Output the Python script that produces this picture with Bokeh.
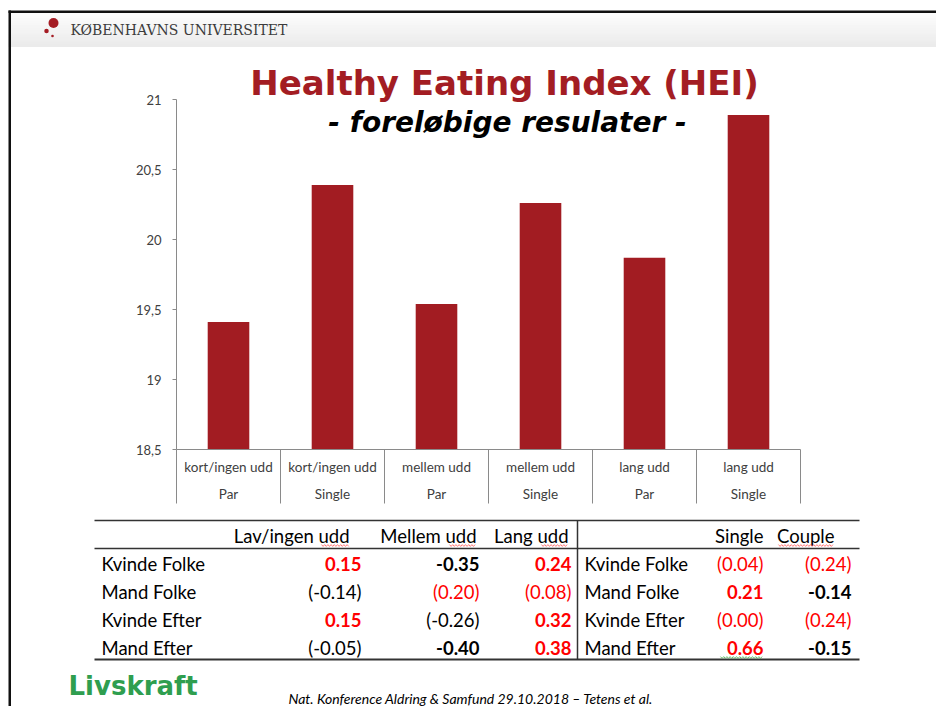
from bokeh.plotting import figure
from bokeh.models import Range1d
from bokeh.core.properties import value
from bokeh.embed import file_html
from bokeh.resources import INLINE

# ---------------- data ----------------
education = ["kort/ingen udd", "kort/ingen udd", "mellem udd", "mellem udd", "lang udd", "lang udd"]
household = ["Par", "Single", "Par", "Single", "Par", "Single"]
hei_score = [19.41, 20.39, 19.54, 20.26, 19.87, 20.89]
y_ticks = [18.5, 19.0, 19.5, 20.0, 20.5, 21.0]
y_tick_labels = ["18,5", "19", "19,5", "20", "20,5", "21"]

row_labels = ["Kvinde Folke", "Mand Folke", "Kvinde Efter", "Mand Efter"]
edu_headers = ["Lav/ingen udd", "Mellem udd", "Lang udd"]
edu_values = [[0.15, -0.35, 0.24],
              [-0.14, 0.20, 0.08],
              [0.15, -0.26, 0.32],
              [-0.05, -0.40, 0.38]]
edu_significant = [[True, True, True],
                   [False, False, False],
                   [True, False, True],
                   [False, True, True]]
hh_headers = ["Single", "Couple"]
hh_values = [[0.04, 0.24],
             [0.21, -0.14],
             [0.00, 0.24],
             [0.66, -0.15]]
hh_significant = [[False, False],
                  [True, True],
                  [False, False],
                  [True, True]]

title = "Healthy Eating Index (HEI)"
subtitle = "- foreløbige resulater -"
header_text = "KØBENHAVNS UNIVERSITET"
logo_text = "Livskraft"
footer_text = "Nat. Konference Aldring & Samfund  29.10.2018 \u2013 Tetens et al."

# ---------------- styling / layout ----------------
W, H = 936, 706
RED_DARK = "#a31d23"
BAR = "#a21c22"
AXC = "#8a8a8a"
TXT = "#404040"
RED = "#ff0000"
F = value("Lato")

p = figure(width=W, height=H, x_range=Range1d(0, W), y_range=Range1d(H, 0),
           output_backend="svg", toolbar_location=None, min_border=0,
           x_axis_type=None, y_axis_type=None, outline_line_color=None,
           background_fill_color="white", border_fill_color="white")

# chart geometry (pixel positions of the chart box)
AX_L, CAT_W, Y_BASE, PPU, V_MIN = 176.0, 104.0, 449.0, 140.0, 18.5
p.extra_x_ranges = {"cx": Range1d((0 - AX_L) / CAT_W, (W - AX_L) / CAT_W)}
p.extra_y_ranges = {"cy": Range1d(V_MIN - (H - Y_BASE) / PPU, V_MIN + Y_BASE / PPU)}

# ---- slide frame and header band ----
n_str = 14
g0, g1 = 12.5, 46.0
tops, bots, cols = [], [], []
for i in range(n_str):
    t = i / (n_str - 1)
    c = int(round(252 - t * (252 - 235)))
    tops.append(g0 + (g1 - g0) * i / n_str)
    bots.append(g0 + (g1 - g0) * (i + 1) / n_str + 0.5)
    cols.append("#%02x%02x%02x" % (c, c, c))
p.quad(left=[8] * n_str, right=[W] * n_str, top=tops, bottom=bots, fill_color=cols, line_color=None)
p.quad(left=[8], right=[W], top=[10], bottom=[12.5], fill_color="#111111", line_color=None)
p.quad(left=[8], right=[10.5], top=[10], bottom=[H], fill_color="#111111", line_color=None)

p.scatter(x=[53, 46, 52], y=[22.5, 30.5, 35.5], size=[10, 4.5, 2.6], marker="circle",
          fill_color="#a51c24", line_color=None)
p.text(x=[70], y=[29], text=[header_text], text_font=value("DejaVu Serif"), text_font_size="14px",
       text_color="#3c3c3c", text_align="left", text_baseline="middle")

# ---- titles ----
p.text(x=[504], y=[82], text=[title], text_font=value("DejaVu Sans"), text_font_style="bold",
       text_font_size="34px", text_color=RED_DARK, text_align="center", text_baseline="alphabetic")
p.text(x=[507], y=[121.5], text=[subtitle], text_font=value("DejaVu Sans"),
       text_font_style="bold italic", text_font_size="28px", text_color="black",
       text_align="center", text_baseline="alphabetic")

# ---- bar chart ----
xc = [i + 0.5 for i in range(len(hei_score))]
p.vbar(x=xc, width=0.4, bottom=V_MIN, top=hei_score, x_range_name="cx", y_range_name="cy",
       fill_color=BAR, line_color=None)
p.segment(x0=[AX_L], y0=[y_ticks[0]], x1=[AX_L], y1=[y_ticks[-1]], y_range_name="cy",
          line_color=AXC, line_width=1)
p.segment(x0=[AX_L - 4] * len(y_ticks), y0=y_ticks, x1=[AX_L] * len(y_ticks), y1=y_ticks,
          y_range_name="cy", line_color=AXC, line_width=1)
p.text(x=[161] * len(y_ticks), y=y_ticks, text=y_tick_labels, y_range_name="cy", text_font=F,
       text_font_size="13px", text_color=TXT, text_align="right", text_baseline="middle")
p.segment(x0=[0], y0=[V_MIN], x1=[len(hei_score)], y1=[V_MIN], x_range_name="cx", y_range_name="cy",
          line_color=AXC, line_width=1)
sep = list(range(len(hei_score) + 1))
p.segment(x0=sep, y0=[Y_BASE] * len(sep), x1=sep, y1=[503] * len(sep), x_range_name="cx",
          line_color=AXC, line_width=1)
p.text(x=xc, y=[466] * len(xc), text=education, x_range_name="cx", text_font=F,
       text_font_size="13.5px", text_color=TXT, text_align="center", text_baseline="middle")
p.text(x=xc, y=[493] * len(xc), text=household, x_range_name="cx", text_font=F,
       text_font_size="13.5px", text_color=TXT, text_align="center", text_baseline="middle")

# ---- table ----
TL, TR = 94, 859
p.segment(x0=[TL, TL, TL], y0=[520, 548, 659], x1=[TR, TR, TR], y1=[520, 548, 659],
          line_color="#333333", line_width=[1.5, 1.5, 2])
p.segment(x0=[577], y0=[520], x1=[577], y1=[659], line_color="#333333", line_width=1.5)

row_y = [563, 591, 619, 647]
edu_hdr_x = [349, 476, 568]
edu_val_x = [361, 479, 571]
hh_hdr_x = [763, 834]
hh_val_x = [763, 851]
FS = "18.5px"

p.text(x=edu_hdr_x + hh_hdr_x, y=[535] * 5, text=edu_headers + hh_headers, text_font=F,
       text_font_size=FS, text_color="black", text_align="right", text_baseline="middle")
p.text(x=[101] * 4 + [584] * 4, y=row_y + row_y, text=row_labels + row_labels, text_font=F,
       text_font_size=FS, text_color="black", text_align="left", text_baseline="middle")


def cells(values, sig, xs):
    out = {True: ([], [], [], []), False: ([], [], [], [])}
    for r, (vals, sg) in enumerate(zip(values, sig)):
        for c, (v, s) in enumerate(zip(vals, sg)):
            bx, by, bt, bc = out[s]
            bx.append(xs[c])
            by.append(row_y[r])
            bt.append(f"{v:.2f}" if s else f"({v:.2f})")
            bc.append(RED if v >= 0 else "black")
    return out


for vals, sig, xs in [(edu_values, edu_significant, edu_val_x), (hh_values, hh_significant, hh_val_x)]:
    groups = cells(vals, sig, xs)
    for s, (gx, gy, gt, gc) in groups.items():
        if gx:
            p.text(x=gx, y=gy, text=gt, text_color=gc, text_font=F, text_font_size=FS,
                   text_font_style="bold" if s else "normal", text_align="right",
                   text_baseline="middle")


# spell-check squiggles
def squiggle(a, b, y0):
    xs, ys = [], []
    x, k = a, 0
    while x <= b:
        xs.append(x)
        ys.append(y0 + (0.9 if k % 2 else -0.9))
        x += 1.6
        k += 1
    return xs, ys


sq = [squiggle(321, 349, 545), squiggle(449, 476, 545), squiggle(541, 568, 545), squiggle(778, 834, 545)]
p.multi_line(xs=[s[0] for s in sq], ys=[s[1] for s in sq], line_color="#ff5a5a", line_width=0.8)
g = squiggle(720, 763, 657)
p.line(x=g[0], y=g[1], line_color="#4caf50", line_width=0.8)

# ---- logo and footer ----
p.text(x=[68], y=[685], text=[logo_text], text_font=value("DejaVu Sans"), text_font_style="bold",
       text_font_size="26px", text_color="#2f9e4f", text_align="left", text_baseline="alphabetic")
p.text(x=[288], y=[698], text=[footer_text], text_font=F, text_font_style="italic",
       text_font_size="14px", text_color="black", text_align="left", text_baseline="middle")

open("out.html", "w").write(file_html(p, INLINE))
